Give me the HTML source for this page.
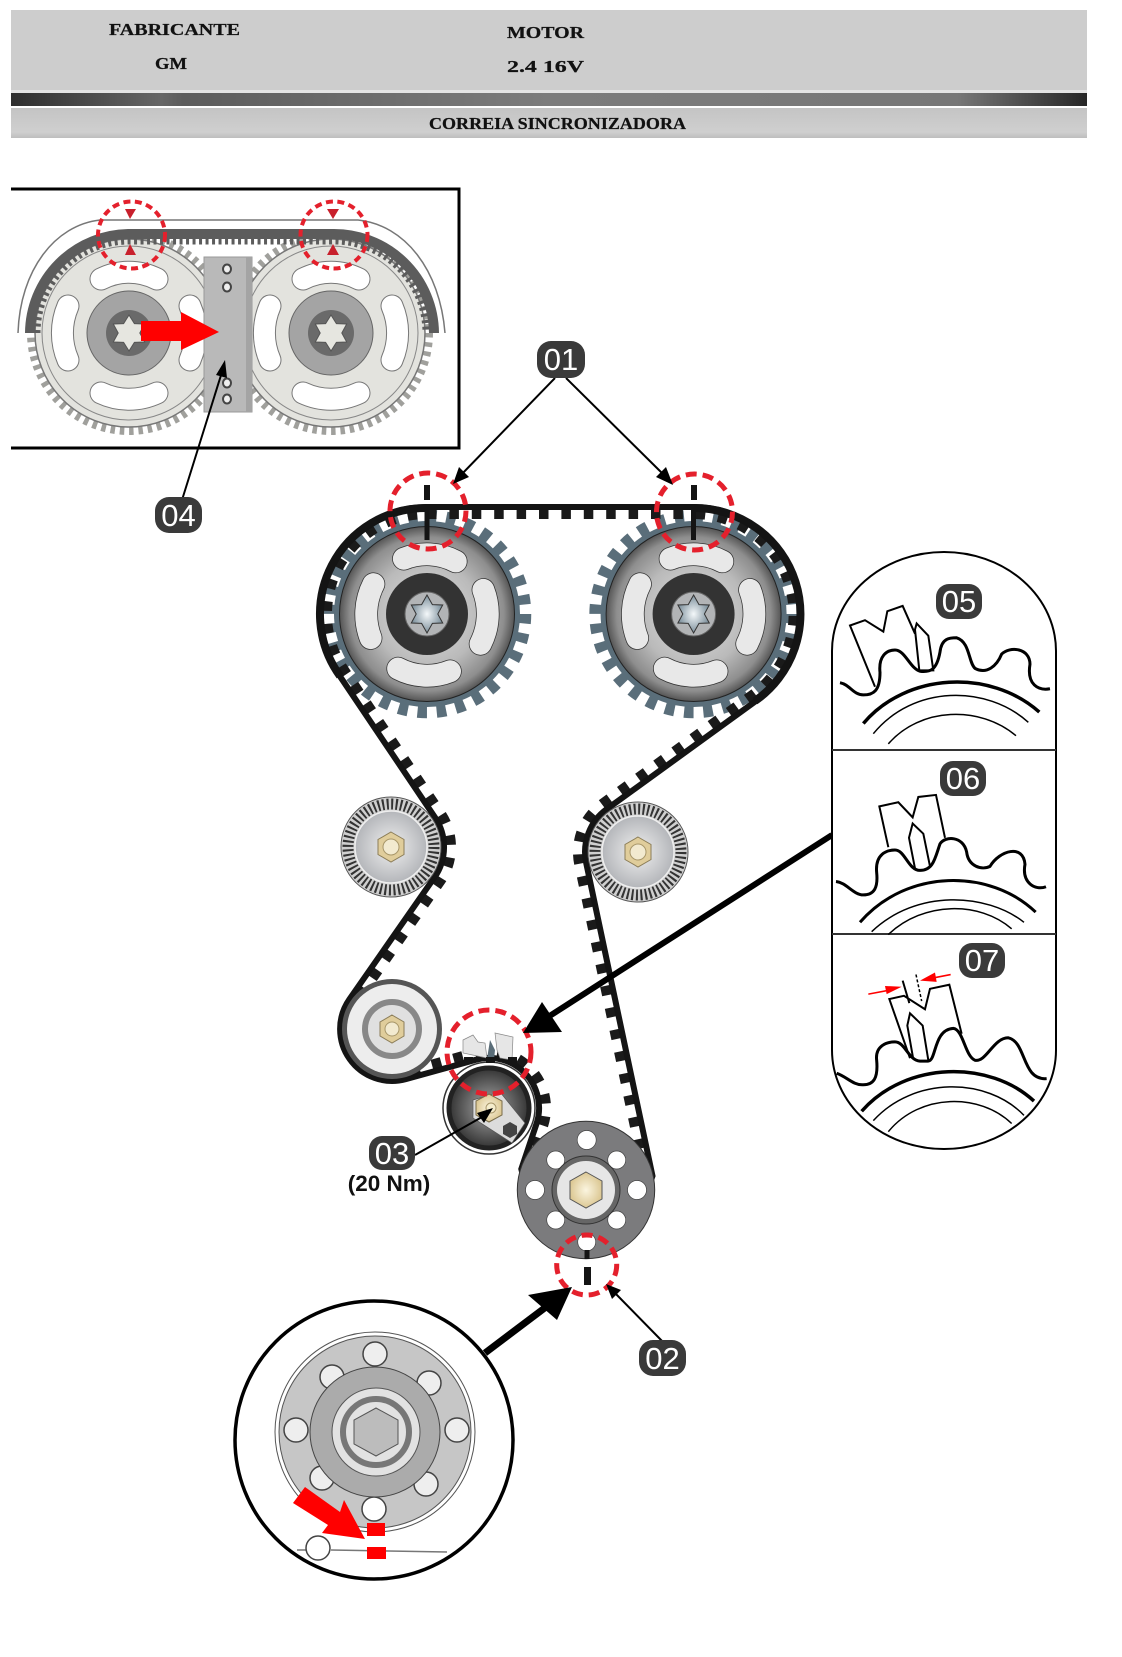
<!DOCTYPE html>
<html><head><meta charset="utf-8"><style>
html,body{margin:0;padding:0;background:#fff}
svg{display:block}
.hd{font-family:"Liberation Serif",serif;font-weight:bold;font-size:17px;fill:#111;stroke:#111;stroke-width:.25}
.lb{font-family:"Liberation Sans",sans-serif;font-size:31px;fill:#fff;text-anchor:middle}
.s{fill:none;stroke:#000;vector-effect:non-scaling-stroke}
</style></head><body>
<svg width="1122" height="1657" viewBox="0 0 1122 1657" xmlns="http://www.w3.org/2000/svg">
<defs>
<linearGradient id="bar" x1="0" x2="1" y1="0" y2="0">
<stop offset="0" stop-color="#2e2e2e"/><stop offset=".14" stop-color="#666"/><stop offset=".16" stop-color="#5c5c5c"/><stop offset=".5" stop-color="#7c7c7c"/><stop offset=".88" stop-color="#777"/><stop offset="1" stop-color="#262626"/>
</linearGradient>
<linearGradient id="sub" x1="0" x2="0" y1="0" y2="1"><stop offset="0" stop-color="#c4c4c4"/><stop offset=".8" stop-color="#cfcfcf"/><stop offset="1" stop-color="#bdbdbd"/></linearGradient>
<radialGradient id="metal"><stop offset="0" stop-color="#dedede"/><stop offset=".6" stop-color="#bababa"/><stop offset=".88" stop-color="#8e8e8e"/><stop offset="1" stop-color="#555"/></radialGradient>
<radialGradient id="idl"><stop offset="0" stop-color="#f0f0f0"/><stop offset="1" stop-color="#b4b6ba"/></radialGradient>
<radialGradient id="tan"><stop offset="0" stop-color="#fbf5e0"/><stop offset="1" stop-color="#dcc894"/></radialGradient>
<radialGradient id="ten"><stop offset="0" stop-color="#aaa"/><stop offset="1" stop-color="#333"/></radialGradient>
<radialGradient id="star"><stop offset="0" stop-color="#f4f8fa"/><stop offset="1" stop-color="#7d909c"/></radialGradient>
<g id="spk">
<circle r="98" fill="none" stroke="#5a6e7a" stroke-width="12.5" stroke-dasharray="9.5 9.74"/>
<circle r="93" fill="#5a6e7a"/>
<circle r="87.5" fill="url(#metal)" stroke="#222" stroke-width="1"/>
<g fill="none" stroke="#333" stroke-width="23.5" stroke-linecap="round" transform="rotate(3)">
<path d="M-26,-54 A62,62 0 0 1 26,-54"/><path d="M-26,56 A62,62 0 0 0 26,56"/>
<path d="M-55,-27 A66,66 0 0 0 -55,27"/><path d="M55,-27 A66,66 0 0 1 55,27"/>
</g>
<g fill="none" stroke="#e8e8e8" stroke-width="22" stroke-linecap="round" transform="rotate(3)">
<path d="M-26,-54 A62,62 0 0 1 26,-54"/><path d="M-26,56 A62,62 0 0 0 26,56"/>
<path d="M-55,-27 A66,66 0 0 0 -55,27"/><path d="M55,-27 A66,66 0 0 1 55,27"/>
</g>
<circle r="41" fill="#333"/>
<circle r="22" fill="#b2b4b6" stroke="#666"/>
<polygon points="0,-19 5.4,-9.4 15.7,-9 10.8,0 15.7,9 5.4,9.4 0,19 -5.4,9.4 -15.7,9 -10.8,0 -15.7,-9 -5.4,-9.4" fill="url(#star)" stroke="#333" stroke-width="1"/>
</g>
<g id="tsp">
<circle r="98" fill="none" stroke="#a0a09c" stroke-width="8" stroke-dasharray="4.5 4.83"/>
<circle r="94" fill="#e3e3de" stroke="#777" stroke-width="1.5"/>
<circle r="87" fill="none" stroke="#888" stroke-width="1"/>
<g fill="none" stroke="#777" stroke-width="23" stroke-linecap="round"><path d="M-28,-54 A61,61 0 0 1 28,-54"/><path d="M-28,60 A66,66 0 0 0 28,60"/><path d="M-61,-27 A68,68 0 0 0 -61,27"/><path d="M61,-27 A68,68 0 0 1 61,27"/></g>
<g fill="none" stroke="#fff" stroke-width="21" stroke-linecap="round"><path d="M-28,-54 A61,61 0 0 1 28,-54"/><path d="M-28,60 A66,66 0 0 0 28,60"/><path d="M-61,-27 A68,68 0 0 0 -61,27"/><path d="M61,-27 A68,68 0 0 1 61,27"/></g>
<circle r="42" fill="#a4a4a4" stroke="#666"/>
<circle r="23" fill="#6a6a6a"/>
<polygon points="0,-18 5.4,-9.4 15.7,-9 10.8,0 15.7,9 5.4,9.4 0,18 -5.4,9.4 -15.7,9 -10.8,0 -15.7,-9 -5.4,-9.4" fill="#e6e6e0" stroke="#555"/>
</g>
<g id="idler">
<circle r="50" fill="#aaa" stroke="#555"/>
<circle r="43" fill="none" stroke="#cfcfcf" stroke-width="13"/>
<circle r="43" fill="none" stroke="#333" stroke-width="11" stroke-dasharray="2 2.5"/>
<circle r="36" fill="url(#idl)" stroke="#eee" stroke-width="1.5"/>
<polygon points="0,-15 13,-7.5 13,7.5 0,15 -13,7.5 -13,-7.5" fill="#e0cd9b" stroke="#8b7d58"/>
<circle r="8" fill="#f2ead0" stroke="#a8976a"/>
</g>
</defs>

<!-- header -->
<rect x="11" y="10" width="1076" height="80" fill="#cdcdcd"/>
<rect x="11" y="90" width="1076" height="3" fill="#e4e4e4"/>
<rect x="11" y="93" width="1076" height="13" fill="url(#bar)"/>
<rect x="11" y="108" width="1076" height="30" fill="url(#sub)"/>
<text class="hd" x="109" y="35" textLength="131" lengthAdjust="spacingAndGlyphs">FABRICANTE</text>
<text class="hd" x="155" y="69" textLength="32" lengthAdjust="spacingAndGlyphs">GM</text>
<text class="hd" x="507" y="38" textLength="77" lengthAdjust="spacingAndGlyphs">MOTOR</text>
<text class="hd" x="507" y="72" textLength="77" lengthAdjust="spacingAndGlyphs">2.4 16V</text>
<text class="hd" x="429" y="129" textLength="257" lengthAdjust="spacingAndGlyphs">CORREIA SINCRONIZADORA</text>

<!-- top-left panel -->
<path d="M11,189 H459 V448 H11" fill="none" stroke="#000" stroke-width="3"/>
<path d="M18,333 C20,270 55,225 100,220 H358 C405,225 440,270 445,333" fill="none" stroke="#777" stroke-width="1.5"/>
<use href="#tsp" x="129" y="333"/>
<use href="#tsp" x="331" y="333"/>
<path d="M30,333 A100,100 0 0 1 129,234 H331 A100,100 0 0 1 434,333" fill="none" stroke="#5c5c5c" stroke-width="10"/>
<path d="M37,333 A92,92 0 0 1 129,241 H331 A92,92 0 0 1 426,333" fill="none" stroke="#5c5c5c" stroke-width="7" stroke-dasharray="3 3.5"/>
<rect x="204" y="257" width="48" height="155" fill="#b9b9b9" stroke="#999"/>
<rect x="246" y="257" width="6" height="155" fill="#a4a4a4"/>
<g fill="#eee" stroke="#444" stroke-width="2"><ellipse cx="227" cy="269" rx="4" ry="4.5"/><ellipse cx="227" cy="287" rx="4" ry="4.5"/><ellipse cx="227" cy="383" rx="4" ry="4.5"/><ellipse cx="227" cy="399" rx="4" ry="4.5"/></g>
<polygon points="141,321 181,321 181,312 219,332 181,350 181,341 141,341" fill="#f00"/>
<path d="M182,500 L222,372" stroke="#000" stroke-width="2"/>
<polygon points="225,360 227,378 216,375" fill="#000"/>
<g fill="none" stroke="#e4202c" stroke-width="4" stroke-dasharray="7 4.5"><circle cx="131.5" cy="235" r="33.5"/><circle cx="334" cy="235" r="33.5"/></g>
<g fill="#c8202c"><polygon points="125,209 136,209 130,219"/><polygon points="125,255 136,255 130,244"/><polygon points="327,209 339,209 333,219"/><polygon points="327,255 339,255 333,244"/></g>

<!-- sprockets -->
<use href="#spk" x="427" y="614"/>
<use href="#spk" x="693.6" y="614"/>

<!-- belt -->
<path d="M427,514 L693.6,514 A100,100 0 0 1 752.4,694.9 L602.7,803.5 A60,60 0 0 0 579.3,864.5 L645.7,1177.3 A61,61 0 0 1 528,1171.2 L543.2,1125.6 A57,57 0 0 0 473.8,1053 L404,1072.4 A45,45 0 0 1 355.1,1003.3 L440.2,881.3 A60,60 0 0 0 440.8,813.5 L344,669.8 A100,100 0 0 1 427,514 Z" fill="none" stroke="#1a1a1a" stroke-width="10" stroke-dasharray="9.5 12.9"/>
<path d="M427,507 L693.6,507 A107,107 0 0 1 756.5,700.6 L606.8,809.1 A53,53 0 0 0 586.2,863 L652.5,1175.9 A68,68 0 0 1 521.3,1169 L536.6,1123.5 A50,50 0 0 0 475.6,1059.8 L405.9,1079.1 A52,52 0 0 1 349.4,999.3 L434.5,877.3 A53,53 0 0 0 435,817.4 L338.2,673.7 A107,107 0 0 1 427,507 Z" fill="none" stroke="#141414" stroke-width="6"/>
<path d="M340,676 A106,106 0 0 1 427,508" fill="none" stroke="#141414" stroke-width="8"/>
<path d="M693.6,508 A106,106 0 0 1 755,701" fill="none" stroke="#141414" stroke-width="8"/>

<!-- marks at sprockets -->
<g fill="#141414"><rect x="424" y="485" width="6" height="15"/><rect x="424.5" y="510" width="5" height="30"/><rect x="691" y="485" width="6" height="15"/><rect x="691" y="510" width="5" height="30"/></g>
<g fill="none" stroke="#e4202c" stroke-width="5" stroke-dasharray="11 6"><circle cx="428" cy="511" r="38"/><circle cx="694.5" cy="512" r="38"/></g>

<!-- idlers -->
<use href="#idler" x="391" y="847"/>
<use href="#idler" x="638" y="852"/>

<!-- pulley G -->
<circle cx="392" cy="1029" r="50" fill="#555"/>
<circle cx="392" cy="1029" r="45" fill="#ededed"/>
<circle cx="392" cy="1029" r="27" fill="#e0e0e0" stroke="#888" stroke-width="6"/>
<polygon points="392,1015 404,1022 404,1036 392,1043 380,1036 380,1022" fill="#e0cd9b" stroke="#8b7d58"/>
<circle cx="392" cy="1029" r="7" fill="#f2ead0" stroke="#a8976a"/>

<!-- tensioner -->
<circle cx="489" cy="1108" r="46" fill="#fff" stroke="#333" stroke-width="1.5"/>
<circle cx="489" cy="1108" r="40" fill="url(#ten)" stroke="#222" stroke-width="5"/>
<polygon points="473,1100 500,1092 525,1123 512,1143 473,1118" fill="#dcdcdc" stroke="#555" stroke-width=".7"/>
<polygon points="510,1122 517,1126 517,1134 510,1138 503,1134 503,1126" fill="#444"/>
<polygon points="489,1094 502,1101 502,1115 489,1122 476,1115 476,1101" fill="url(#tan)" stroke="#7a6d4a"/>
<circle cx="491" cy="1108" r="5" fill="#f4eccc" stroke="#a8976a"/>
<polygon points="463,1040 473,1035 478,1042 485,1043 487,1058 463,1053" fill="#e6e6e6" stroke="#888" stroke-width=".7"/>
<polygon points="490,1040 495,1050 494,1060 487,1059" fill="#5a6d78"/>
<polygon points="495,1033 513,1037 512,1060 500,1058 497,1050" fill="#e6e6e6" stroke="#888" stroke-width=".7"/>
<path d="M464,1060 L520,1060" stroke="#141414" stroke-width="6" stroke-dasharray="9 13"/>
<circle cx="489" cy="1052" r="42" fill="none" stroke="#e4202c" stroke-width="5" stroke-dasharray="11 6"/>
<path d="M415,1155 L482,1117" stroke="#000" stroke-width="2"/>
<polygon points="493,1108 484,1123 477,1113" fill="#000"/>

<!-- big pulley -->
<circle cx="586" cy="1190" r="68.7" fill="#7b7b7d" stroke="#333" stroke-width="1"/>
<g fill="#fff" stroke="#444" stroke-width=".7">
<circle cx="586.7" cy="1140" r="9.5"/><circle cx="555.7" cy="1160" r="9"/><circle cx="616.7" cy="1160" r="9"/><circle cx="535" cy="1190" r="9.5"/><circle cx="637" cy="1190" r="9.5"/><circle cx="555.7" cy="1220" r="9"/><circle cx="616.7" cy="1220" r="9"/><circle cx="586.7" cy="1242" r="9"/>
</g>
<circle cx="586" cy="1190" r="34" fill="#666" stroke="#333"/>
<circle cx="586" cy="1190" r="29" fill="#e6e6e6"/>
<polygon points="586,1172 602,1181 602,1199 586,1208 570,1199 570,1181" fill="url(#tan)" stroke="#555"/>
<rect x="584.5" y="1250" width="5" height="9" fill="#141414"/>
<rect x="584" y="1267" width="7" height="18" fill="#141414"/>
<circle cx="586.7" cy="1265" r="30" fill="none" stroke="#e4202c" stroke-width="5" stroke-dasharray="11 6"/>

<!-- long arrow from capsule -->
<path d="M832,835 L548,1017" stroke="#000" stroke-width="6"/>
<polygon points="523,1033 542,1002 562,1032" fill="#000"/>

<!-- lower circle -->
<circle cx="374" cy="1440" r="139" fill="#fff" stroke="#000" stroke-width="3.5"/>
<circle cx="375" cy="1432" r="100" fill="#fff" stroke="#555" stroke-width="1"/>
<circle cx="375" cy="1432" r="96" fill="#c6c6c6" stroke="#555" stroke-width="1"/>
<g fill="#eee" stroke="#444" stroke-width="1.5">
<circle cx="375" cy="1354" r="12"/><circle cx="332" cy="1377" r="12"/><circle cx="429" cy="1383" r="12"/><circle cx="296" cy="1430" r="12"/><circle cx="457" cy="1430" r="12"/><circle cx="322" cy="1478" r="12"/><circle cx="426" cy="1484" r="12"/><circle cx="374" cy="1509" r="12" fill="#fff"/>
</g>
<circle cx="375" cy="1432" r="65" fill="#ababab" stroke="#444"/>
<circle cx="376" cy="1432" r="44" fill="#e2e2e2" stroke="#555"/>
<circle cx="376" cy="1432" r="33" fill="#e2e2e2" stroke="#777" stroke-width="6"/>
<polygon points="376,1408 398,1420 398,1444 376,1456 354,1444 354,1420" fill="#bcbcbc" stroke="#555"/>
<path d="M297,1550 H306 M331,1550 L447,1552" stroke="#777" stroke-width="1.5"/>
<circle cx="318" cy="1548" r="12" fill="#fff" stroke="#444" stroke-width="1.5"/>
<polygon points="305,1487 340,1512 344,1500 365,1539 322,1533 328,1525 293,1503" fill="#f00"/>
<rect x="367" y="1523" width="18" height="13" fill="#f00"/>
<rect x="367" y="1547" width="19" height="12" fill="#f00"/>

<!-- arrow to 02 mark -->
<path d="M485,1353 L546,1307" stroke="#000" stroke-width="7"/>
<polygon points="572,1287 528,1295 557,1320" fill="#000"/>
<path d="M663,1342 L614,1292" stroke="#000" stroke-width="2"/>
<polygon points="606,1284 621,1290 612,1299" fill="#000"/>

<!-- 01 arrows -->
<path d="M555,378 L460,476" stroke="#000" stroke-width="2"/>
<polygon points="453,484 459,467 469,477" fill="#000"/>
<path d="M566,378 L665,476" stroke="#000" stroke-width="2"/>
<polygon points="673,485 656,477 666,467" fill="#000"/>

<!-- capsule -->
<path d="M832,651 A112,99 0 0 1 1056,651 V1050 A112,99 0 0 1 832,1050 Z" fill="#fff" stroke="#000" stroke-width="2"/>
<path d="M832,750 H1056 M832,934 H1056" stroke="#333" stroke-width="2"/>
<g transform="translate(830,550) scale(.3333,.4082)">
<path class="s" stroke-width="3" d="M30,325 C60,330 70,355 100,355 C130,355 150,345 150,300 C145,260 170,245 195,245 C225,245 240,290 270,297 C300,300 320,295 330,250 C335,215 360,215 380,215 C420,225 415,275 435,290 C470,305 500,285 515,255 C540,235 600,240 600,280 C590,330 625,345 660,340"/>
<path class="s" stroke-width="2" d="M135,335 L60,185 L105,172 L160,200 L172,150 L218,137 L255,205 M268,295 L255,195 L260,180 L295,210 L310,295 L268,295"/>
<path class="s" stroke-width="3.5" d="M100,425 C230,300 480,290 628,397"/>
<path class="s" stroke-width="1.5" d="M130,450 C250,330 470,330 595,422 M175,475 C270,385 450,380 558,455"/>

<path class="s" stroke-width="3" d="M18,812 C50,815 70,845 100,845 C130,845 145,830 140,790 C135,745 170,735 195,735 C225,735 235,785 270,785 C310,785 315,755 330,720 C345,700 400,700 410,740 C415,775 455,785 480,775 C510,735 580,720 585,770 C575,815 615,835 648,825"/>
<path class="s" stroke-width="2" d="M175,728 L148,628 L205,618 L248,655 L265,605 L318,600 L345,705 M255,780 L237,705 L248,670 L280,695 L300,775"/>
<path class="s" stroke-width="3" d="M90,912 C230,780 480,780 617,887"/>
<path class="s" stroke-width="1.5" d="M125,935 C260,830 470,840 582,912 M175,942 C280,860 450,860 545,928"/>

<path class="s" stroke-width="3" d="M20,1282 C50,1290 70,1312 100,1310 C130,1310 145,1295 140,1250 C135,1215 170,1205 195,1205 C225,1205 235,1250 270,1252 L295,1252 C320,1250 310,1175 370,1172 C400,1175 405,1240 435,1250 C470,1255 490,1195 535,1195 C590,1205 575,1300 650,1295"/>
<path class="s" stroke-width="2" d="M240,1245 L178,1100 L222,1092 L285,1125 L300,1075 L358,1065 L395,1185 M250,1248 L232,1165 L240,1135 L278,1165 L295,1250 M218,1055 L238,1110"/>
<path class="s" stroke-width="1.5" stroke-dasharray="3 2" d="M258,1040 L275,1105"/>
<path class="s" stroke-width="3.5" d="M95,1375 C230,1250 480,1250 612,1350"/>
<path class="s" stroke-width="1.5" d="M130,1398 C250,1290 470,1290 582,1385 M175,1425 C270,1330 450,1330 545,1405"/>
<path d="M115,1088 L180,1078 M362,1040 L300,1050" fill="none" stroke="#f00" stroke-width="4"/>
<polygon points="215,1070 165,1068 170,1088" fill="#f00"/>
<polygon points="270,1055 315,1035 320,1058" fill="#f00"/>
</g>

<!-- labels -->
<g fill="#3a3a3a">
<rect x="537" y="341" width="48" height="37" rx="14"/>
<rect x="155" y="497" width="47" height="36" rx="14"/>
<rect x="369" y="1136" width="46" height="34" rx="13"/>
<rect x="639" y="1340" width="47" height="36" rx="14"/>
<rect x="936" y="584" width="46" height="35" rx="13"/>
<rect x="940" y="761" width="46" height="35" rx="13"/>
<rect x="959" y="943" width="46" height="35" rx="13"/>
</g>
<g>
<text class="lb" x="561" y="370">01</text>
<text class="lb" x="178.5" y="526">04</text>
<text class="lb" x="392" y="1164">03</text>
<text class="lb" x="662.5" y="1369">02</text>
<text class="lb" x="959" y="612">05</text>
<text class="lb" x="963" y="789">06</text>
<text class="lb" x="982" y="971">07</text>
</g>
<text x="389" y="1191" text-anchor="middle" font-family="'Liberation Sans',sans-serif" font-weight="bold" font-size="22.5" fill="#111">(20 Nm)</text>
</svg>
</body></html>
